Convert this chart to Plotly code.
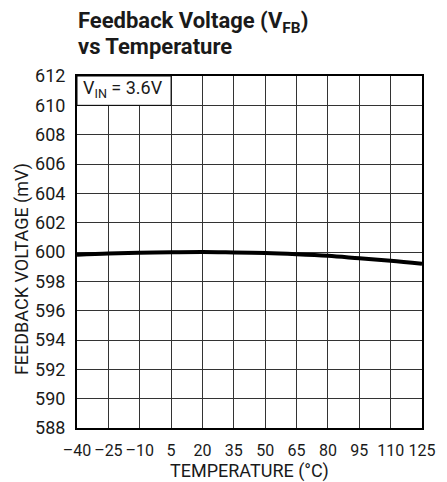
import plotly.graph_objects as go

temps = [-40, -25, -10, 5, 20, 35, 50, 65, 80, 95, 110, 125]
vfb = [599.82, 599.90, 599.95, 599.98, 600.0, 599.97, 599.93, 599.85, 599.74, 599.57, 599.40, 599.20]
x_ticks = [-40, -25, -10, 5, 20, 35, 50, 65, 80, 95, 110, 125]
x_tick_labels = ["–40", "–25", "–10", "5", "20", "35", "50", "65", "80", "95", "110", "125"]
y_ticks = list(range(588, 613, 2))

FONT = "Roboto, Liberation Sans, sans-serif"

W, H = 447, 482
L, R, T, B = 77, 18, 76, 54
PW, PH = W - L - R, H - T - B

def py(ypx):
    return (H - B - ypx) / PH

def px(xpx):
    return (xpx - L) / PW

fig = go.Figure()
fig.add_trace(go.Scatter(x=temps, y=vfb, mode="lines",
                         line=dict(color="black", width=4, shape="spline"),
                         showlegend=False, hoverinfo="skip"))

fig.add_shape(type="rect", xref="x", yref="y", x0=-40, x1=5, y0=610, y1=612,
              fillcolor="white", line=dict(color="black", width=1), layer="above")

annotations = [
    dict(text="<b>Feedback Voltage (V<sub>FB</sub>)</b>", xref="paper", yref="paper",
         x=px(76), y=py(22), xanchor="left", yanchor="middle", showarrow=False,
         font=dict(family=FONT, size=22, color="#1a1a1a")),
    dict(text="<b>vs Temperature</b>", xref="paper", yref="paper",
         x=px(76), y=py(46), xanchor="left", yanchor="middle", showarrow=False,
         font=dict(family=FONT, size=22, color="#1a1a1a")),
    dict(text="V<sub>IN</sub> = 3.6V", xref="paper", yref="paper",
         x=px(81), y=py(89), xanchor="left", yanchor="middle", showarrow=False,
         font=dict(family=FONT, size=18, color="#1a1a1a")),
    dict(text="FEEDBACK VOLTAGE (mV)", xref="paper", yref="paper", textangle=-90,
         x=px(21), y=py(269), xanchor="center", yanchor="middle", showarrow=False,
         font=dict(family=FONT, size=18, color="#1a1a1a")),
    dict(text="TEMPERATURE (°C)", xref="paper", yref="paper",
         x=px(253), y=py(471), xanchor="center", yanchor="middle", showarrow=False,
         borderpad=0, font=dict(family=FONT, size=18, color="#1a1a1a")),
]

fig.update_layout(
    width=W, height=H,
    margin=dict(l=L, r=R, t=T, b=B),
    paper_bgcolor="white", plot_bgcolor="white",
    font=dict(family=FONT, size=18, color="#1a1a1a"),
    annotations=annotations,
    xaxis=dict(range=[-40, 125], tickvals=x_ticks, ticktext=x_tick_labels,
               tickangle=0, tickfont=dict(size=16),
               showgrid=True, gridcolor="#333333", gridwidth=1,
               showline=True, linecolor="black", linewidth=2, mirror=True,
               ticks="", zeroline=False, ticklabelstandoff=7),
    yaxis=dict(range=[588, 612], tickvals=y_ticks, tickfont=dict(size=18),
               showgrid=True, gridcolor="#333333", gridwidth=1,
               showline=True, linecolor="black", linewidth=2, mirror=True,
               ticks="", zeroline=False, ticklabelstandoff=6),
)

fig.write_html("out.html", config={"displayModeBar": False},
               post_script="document.body.style.margin='0';document.body.style.overflow='hidden';")
